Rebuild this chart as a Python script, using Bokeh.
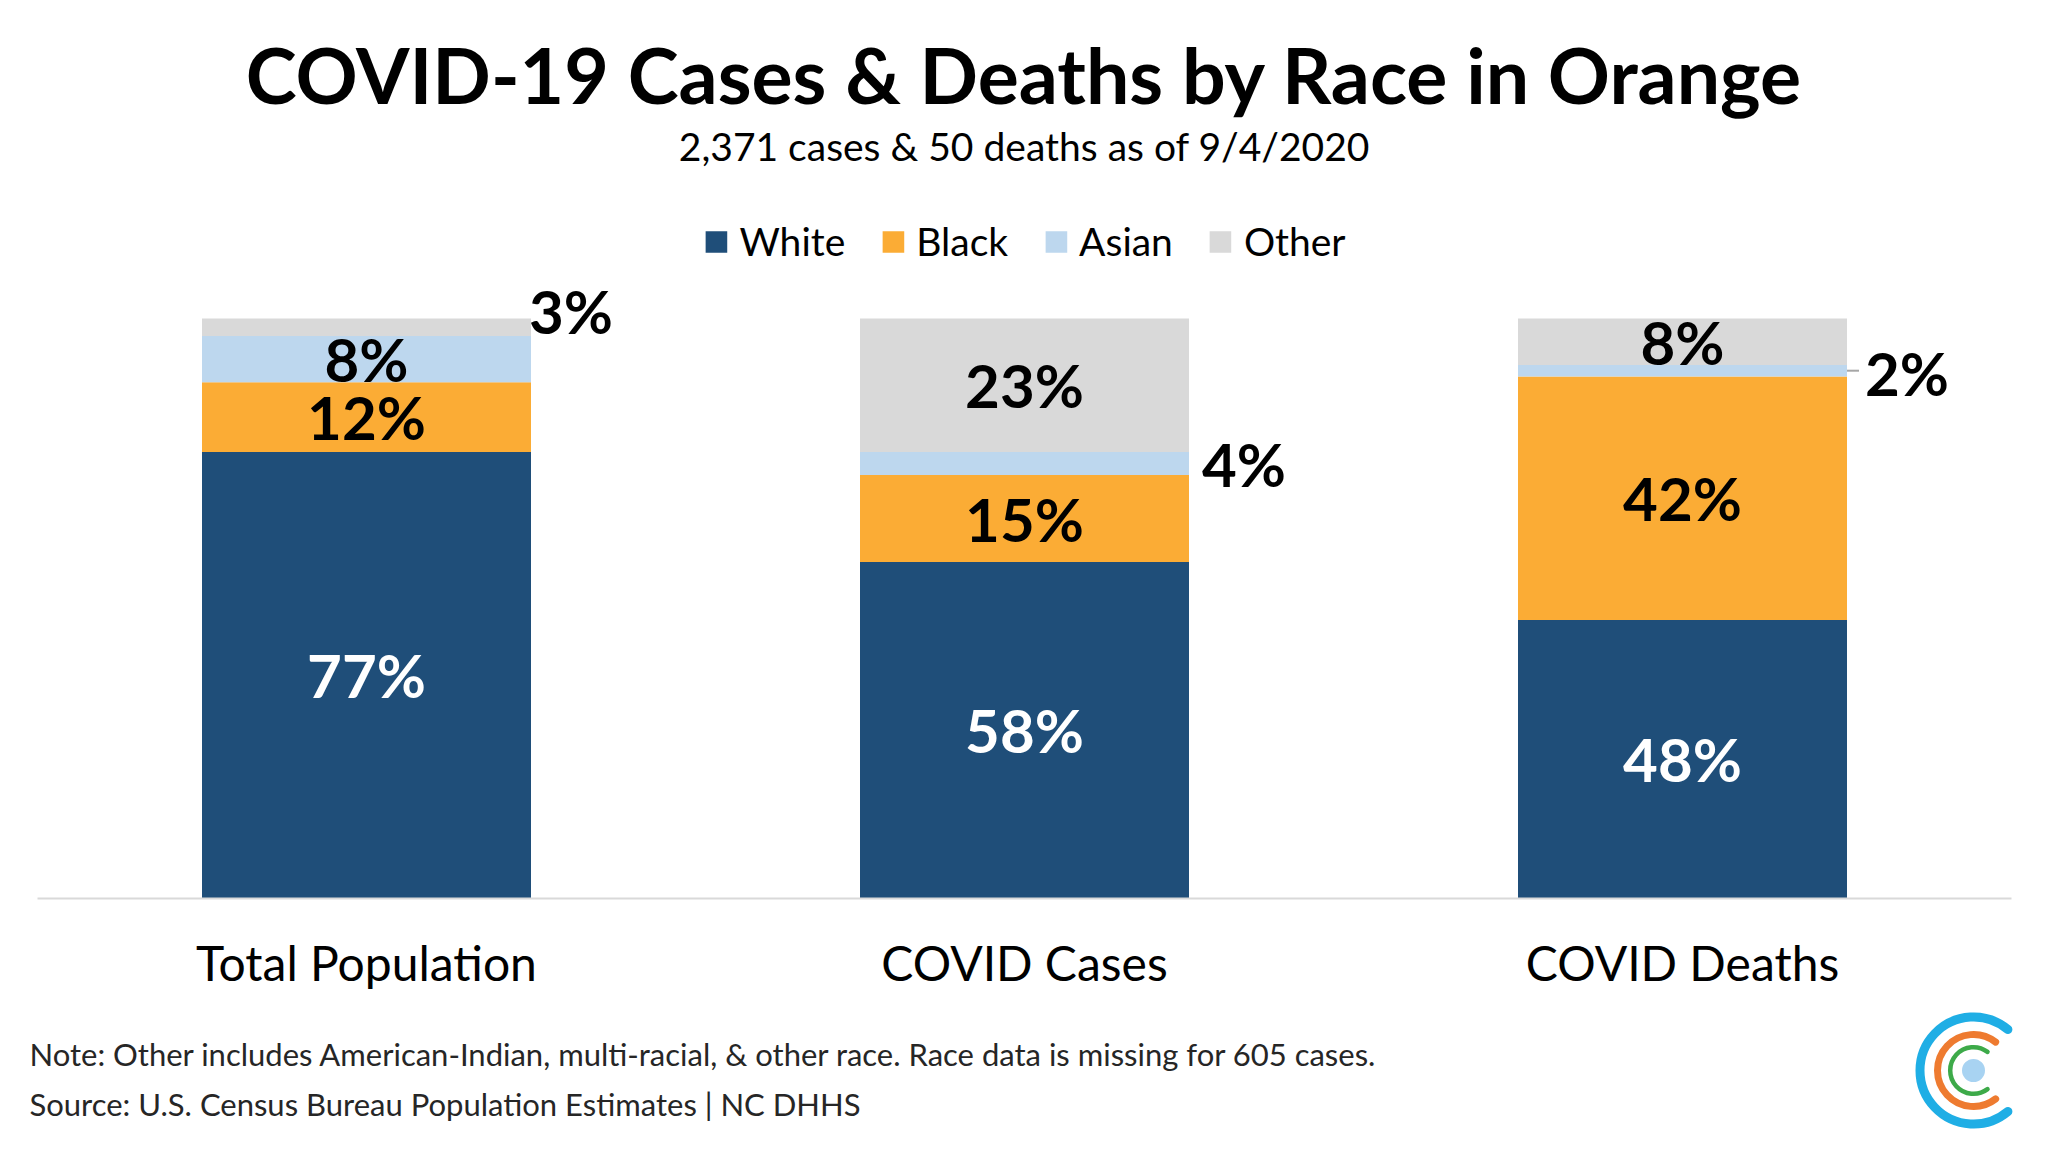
from bokeh.plotting import figure
from bokeh.models import ColumnDataSource, FactorRange, Range1d, Legend, LegendItem
from bokeh.transform import dodge
from bokeh.layouts import column
from bokeh.core.properties import value
from bokeh.embed import file_html
from bokeh.resources import INLINE

# ---------------- data ----------------
categories = ["Total Population", "COVID Cases", "COVID Deaths"]
races = ["White", "Black", "Asian", "Other"]
white = [77, 58, 48]
black = [12, 15, 42]
asian = [8, 4, 2]
other = [3, 23, 8]

title_text = "COVID-19 Cases & Deaths by Race in Orange"
subtitle_text = "2,371 cases & 50 deaths as of 9/4/2020"
note_text = "Note: Other includes American-Indian, multi-racial, & other race. Race data is missing for 605 cases."
source_text = "Source: U.S. Census Bureau Population Estimates | NC DHHS"

# ---------------- style / layout ----------------
FONT = "Lato"
colors = ["#1F4E79", "#FBAC35", "#BDD7EE", "#D9D9D9"]
label_colors = ["#FFFFFF", "#000000", "#000000", "#000000"]
W = 2048
H = 1152
PX_PER_UNIT = 658.0          # pixels per category slot
SIDE_PAD = 37.0              # pixels from canvas edge to the first/last slot
FRAME_H = 898                # frame top = canvas top, frame bottom = bar baseline
PX_PER_PCT = 5.8
MAIN_H = 1000
FOOT_H = H - MAIN_H
BAR_W = 0.5
HALF_BAR_PX = PX_PER_UNIT * BAR_W / 2
# outside labels for thin segments: (x gap px, y offset px, leader line)
outside_style = {
    "Total Population": (-2, -16, False),
    "COVID Cases": (13, 0, False),
    "COVID Deaths": (18, 2, True),
}


def y_at(canvas_y):
    """canvas pixel row (from top) -> y data units of the main frame"""
    return (FRAME_H - canvas_y) / PX_PER_PCT


pad_frac = 2 * SIDE_PAD / PX_PER_UNIT / len(categories)

data = {"cat": categories, "White": white, "Black": black, "Asian": asian, "Other": other}
bar_src = ColumnDataSource(data)

p = figure(
    x_range=FactorRange(factors=categories, range_padding=pad_frac, range_padding_units="percent"),
    y_range=Range1d(0, FRAME_H / PX_PER_PCT),
    width=W, height=MAIN_H,
    min_border_left=0, min_border_right=0, min_border_top=0, min_border_bottom=MAIN_H - FRAME_H,
    y_axis_location=None, output_backend="svg", toolbar_location=None,
    outline_line_color=None, background_fill_color="white", border_fill_color="white",
)
p.grid.grid_line_color = None

renderers = p.vbar_stack(races, x="cat", width=BAR_W, fill_color=colors, line_color=None, source=bar_src)

legend = Legend(
    items=[LegendItem(label=r, renderers=[rd]) for r, rd in zip(races, renderers)],
    orientation="horizontal", location="top_center", margin=218, padding=0,
    spacing=34, label_standoff=10, glyph_width=27, glyph_height=27,
    label_text_font=FONT, label_text_font_size="39px", label_text_color="#000000",
    background_fill_alpha=0, border_line_alpha=0,
)
p.add_layout(legend)

# percentage labels
lab = {"cat": [], "y": [], "text": [], "color": [], "xo": [], "yo": [], "align": []}
lead = {"cat": [], "y": []}
series = [white, black, asian, other]
for i, cat in enumerate(categories):
    bottom = 0
    for j, s in enumerate(series):
        v = s[i]
        center = bottom + v / 2
        lab["cat"].append(cat)
        lab["y"].append(center)
        lab["text"].append(f"{v}%")
        if v <= 4:
            gap, yo, has_leader = outside_style[cat]
            lab["xo"].append(HALF_BAR_PX + gap)
            lab["yo"].append(yo)
            lab["align"].append("left")
            lab["color"].append("#000000")
            if has_leader:
                lead["cat"].append(cat)
                lead["y"].append(center)
        else:
            lab["xo"].append(0)
            lab["yo"].append(0)
            lab["align"].append("center")
            lab["color"].append(label_colors[j])
        bottom += v

lab_src = ColumnDataSource(lab)
p.text(x="cat", y="y", text="text", x_offset="xo", y_offset="yo", text_align="align",
       text_baseline="middle", text_color="color", text_font=value(FONT),
       text_font_size="60px", text_font_style="bold", source=lab_src)

lead_src = ColumnDataSource(lead)
p.segment(x0=dodge("cat", BAR_W / 2, range=p.x_range), y0="y",
          x1=dodge("cat", BAR_W / 2 + 12 / PX_PER_UNIT, range=p.x_range), y1="y",
          line_color="#A6A6A6", line_width=2, source=lead_src)

# title & subtitle
p.text(x=["COVID Cases"], y=[y_at(73)], text=[title_text], text_align="center",
       text_baseline="middle", text_font=value(FONT), text_font_size="77px",
       text_font_style="bold", text_color="#000000")
p.text(x=["COVID Cases"], y=[y_at(145)], text=[subtitle_text], text_align="center",
       text_baseline="middle", text_font=value(FONT), text_font_size="39px",
       text_color="#000000")

# x axis
ax = p.xaxis[0]
ax.bounds = (0, len(categories))
ax.axis_line_color = "#D9D9D9"
ax.axis_line_width = 2
ax.major_tick_line_color = None
ax.minor_tick_line_color = None
ax.major_label_standoff = 29
ax.major_label_text_font = FONT
ax.major_label_text_font_size = "48px"
ax.major_label_text_color = "#000000"

# ---------------- footer (notes + logo) ----------------
f = figure(
    width=W, height=FOOT_H, x_range=Range1d(0, W), y_range=Range1d(0, FOOT_H),
    x_axis_location=None, y_axis_location=None, min_border=0,
    output_backend="svg", toolbar_location=None, outline_line_color=None,
)
f.grid.grid_line_color = None
f.text(x=[29, 29], y=[H - 1053, H - 1103], text=[note_text, source_text], text_align="left",
       text_baseline="middle", text_font=value(FONT), text_font_size="31px",
       text_color="#262626")

LOGO_X, LOGO_Y = 1973, H - 1070
rings = [(53.5, 9, "#1FAEE5", 50), (36, 7, "#EE7B30", 52), (23.3, 4.5, "#3DAA49", 53)]
for r, lw, c, a in rings:
    f.arc(x=[LOGO_X], y=[LOGO_Y], radius=[r], radius_units="screen",
          start_angle=a, end_angle=360 - a, start_angle_units="deg", end_angle_units="deg",
          line_color=c, line_width=lw, line_cap="round")
f.scatter(x=[LOGO_X], y=[LOGO_Y], size=23, marker="circle", fill_color="#A8D3F2", line_color=None)

layout = column(p, f, spacing=0)
open("out.html", "w").write(file_html(layout, INLINE))
